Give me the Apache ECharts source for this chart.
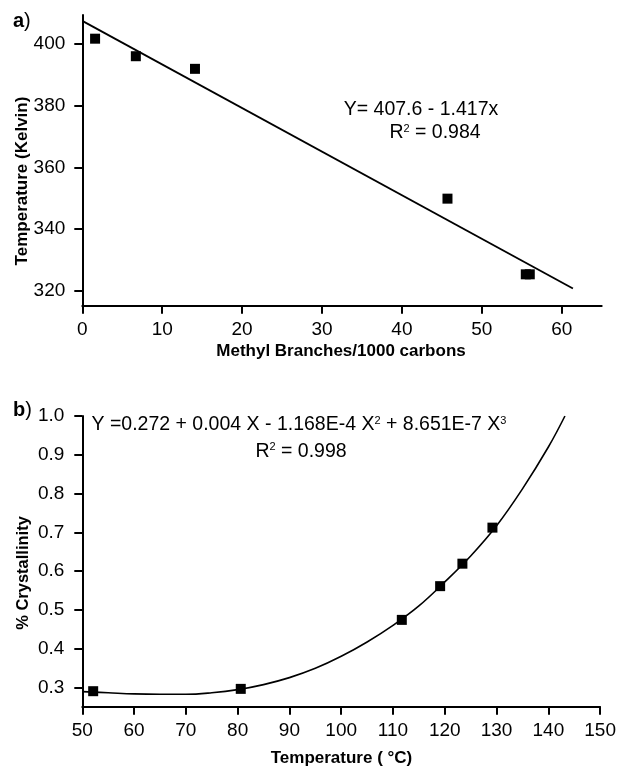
<!DOCTYPE html>
<html><head><meta charset="utf-8">
<script src="https://cdn.jsdelivr.net/npm/echarts@6/dist/echarts.min.js"></script>
<style>html,body{margin:0;padding:0;background:#fff}#c{width:619px;height:766px}</style>
</head><body><div id="c"></div>
<script>
// ---- Panel a) data ----
const branchX = [1.6, 6.7, 14.1, 45.7, 55.5, 56.0];
const tempK = [401.8, 396.1, 392.0, 349.8, 325.2, 325.2];
const fitAX = [0, 61.4];
const fitAY = [407.6, 320.6];
const ticksAX = [0, 10, 20, 30, 40, 50, 60];
const ticksAY = [320, 340, 360, 380, 400];

// ---- Panel b) data ----
const tempC = [52.1, 80.6, 111.7, 119.1, 123.4, 129.2];
const cryst = [0.290, 0.296, 0.474, 0.561, 0.619, 0.712];
const curveX = [50, 55, 60, 65, 70, 75, 80, 85, 90, 95, 100, 105, 110, 115, 120, 125, 130, 135, 140, 143.2];
const curveY = [0.289, 0.286, 0.283, 0.282, 0.282, 0.286, 0.294, 0.307, 0.325, 0.349, 0.380, 0.417, 0.460, 0.510, 0.572, 0.639, 0.717, 0.812, 0.920, 1.000];
const ticksBY = [0.3, 0.4, 0.5, 0.6, 0.7, 0.8, 0.9, 1.0];

const FONT = 'Liberation Sans, Arial, sans-serif';
const zip = (a, b) => a.map((v, i) => [v, b[i]]);

const axLine = {show: true, onZero: false, lineStyle: {color: '#000', width: 2}};
const axTick = (vals) => ({show: true, inside: false, length: 8, lineStyle: {color: '#000', width: 2}, customValues: vals});
const axLab = (vals, margin, fmt) => ({show: true, color: '#000', fontFamily: FONT, fontSize: 19, margin: margin, customValues: vals, formatter: fmt});

function txt(x, y, text, size, opts) {
  opts = opts || {};
  return {
    type: 'text', x: x, y: y, rotation: opts.rot || 0, silent: true,
    style: Object.assign({
      text: text, fill: '#000', fontFamily: FONT, fontSize: size,
      fontWeight: opts.bold ? 'bold' : 'normal',
      align: opts.align || 'center', verticalAlign: 'middle',
      textAlign: opts.align || 'center', textVerticalAlign: 'middle'
    }, opts.rich ? {rich: opts.rich} : {})
  };
}
const supRich = {sup: {fontSize: 11, fontFamily: FONT, fill: '#000', verticalAlign: 'top'}};
const boldRich = {b: {fontWeight: 'bold', fontSize: 20, fontFamily: FONT, fill: '#000'}};

const option = {
  animation: false,
  backgroundColor: '#fff',
  grid: [
    {left: 82.3, top: 15, width: 519.4, height: 290.7},
    {left: 82.3, top: 416, width: 518, height: 290.7}
  ],
  xAxis: [
    {type: 'value', gridIndex: 0, min: 0, max: 65, axisLine: axLine, axisTick: axTick(ticksAX),
     axisLabel: axLab(ticksAX, 15, v => String(v)), splitLine: {show: false}},
    {type: 'value', gridIndex: 1, min: 50, max: 150, interval: 10, axisLine: axLine,
     axisTick: {show: true, length: 8, lineStyle: {color: '#000', width: 2}},
     axisLabel: {color: '#000', fontFamily: FONT, fontSize: 19, margin: 15}, splitLine: {show: false}}
  ],
  yAxis: [
    {type: 'value', gridIndex: 0, min: 315, max: 409.5, axisLine: axLine, axisTick: axTick(ticksAY),
     axisLabel: axLab(ticksAY, 17, v => String(v)), splitLine: {show: false}},
    {type: 'value', gridIndex: 1, min: 0.25, max: 1.0, axisLine: axLine, axisTick: axTick(ticksBY),
     axisLabel: axLab(ticksBY, 18, v => v.toFixed(1)), splitLine: {show: false}}
  ],
  series: [
    {type: 'line', xAxisIndex: 0, yAxisIndex: 0, data: zip(fitAX, fitAY), showSymbol: false, symbol: 'none',
     lineStyle: {color: '#000', width: 1.8}, z: 2},
    {type: 'scatter', xAxisIndex: 0, yAxisIndex: 0, data: zip(branchX, tempK), symbol: 'rect', symbolSize: 10,
     itemStyle: {color: '#000', opacity: 1, borderWidth: 0}, z: 3},
    {type: 'line', xAxisIndex: 1, yAxisIndex: 1, data: zip(curveX, curveY), showSymbol: false, symbol: 'none',
     smooth: 0.4, lineStyle: {color: '#000', width: 1.6}, z: 2},
    {type: 'scatter', xAxisIndex: 1, yAxisIndex: 1, data: zip(tempC, cryst), symbol: 'rect', symbolSize: 10,
     itemStyle: {color: '#000', opacity: 1, borderWidth: 0}, z: 3}
  ],
  graphic: [
    txt(13, 21, '{b|a})', 20, {align: 'left', rich: boldRich}),
    txt(13, 410, '{b|b})', 20, {align: 'left', rich: boldRich}),
    txt(22, 181, 'Temperature (Kelvin)', 17, {bold: true, rot: Math.PI / 2}),
    txt(341, 351, 'Methyl Branches/1000 carbons', 17, {bold: true}),
    txt(23, 573, '% Crystallinity', 16.5, {bold: true, rot: Math.PI / 2}),
    txt(341.5, 758, 'Temperature ( °C)', 17, {bold: true}),
    txt(421, 110, 'Y= 407.6 - 1.417x', 19.5),
    txt(435, 133, 'R{sup|2} = 0.984', 19.5, {rich: supRich}),
    txt(299, 425, 'Y =0.272 + 0.004 X - 1.168E-4 X{sup|2} + 8.651E-7 X{sup|3}', 19.5, {rich: supRich}),
    txt(301, 451.5, 'R{sup|2} = 0.998', 19.5, {rich: supRich})
  ]
};
const chart = echarts.init(document.getElementById('c'), null, {renderer: 'canvas'});
chart.setOption(option);
</script></body></html>
